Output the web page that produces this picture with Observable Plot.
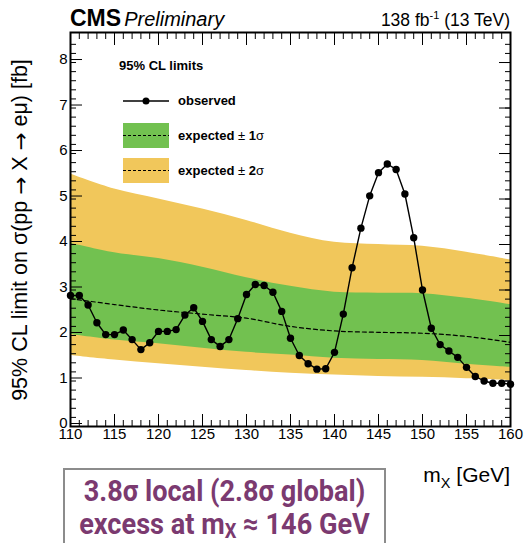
<!DOCTYPE html>
<html>
<head>
<meta charset="utf-8">
<script src="https://cdn.jsdelivr.net/npm/d3@7"></script>
<script src="https://cdn.jsdelivr.net/npm/@observablehq/plot@0.6"></script>
<style>
  html, body { margin: 0; padding: 0; background: #fff; }
  #chart { width: 524px; height: 543px; }
</style>
</head>
<body>
<div id="chart"></div>
<script>
// Resonance mass hypotheses (GeV) and the observed 95% CL upper limit (fb)
const massPoints = [110, 111, 112, 113, 114, 115, 116, 117, 118, 119,
                    120, 121, 122, 123, 124, 125, 126, 127, 128, 129,
                    130, 131, 132, 133, 134, 135, 136, 137, 138, 139,
                    140, 141, 142, 143, 144, 145, 146, 147, 148, 149,
                    150, 151, 152, 153, 154, 155, 156, 157, 158, 159, 160];
const observedLimit = [2.88, 2.88, 2.67, 2.28, 2.02, 2.02, 2.12, 1.91, 1.69, 1.84,
                       2.09, 2.09, 2.13, 2.45, 2.61, 2.31, 1.91, 1.76, 1.91, 2.37,
                       2.90, 3.12, 3.10, 2.95, 2.53, 1.94, 1.56, 1.38, 1.26, 1.27,
                       1.63, 2.47, 3.49, 4.36, 5.07, 5.58, 5.77, 5.65, 5.11, 4.15,
                       3.00, 2.16, 1.80, 1.66, 1.52, 1.30, 1.10, 1.00, 0.95, 0.95, 0.93];

// Expected limit and its ±1σ / ±2σ bands
const bandMass     = [110, 115, 120, 125, 130, 135, 140, 145, 150, 155, 160];
const expectedPlus2  = [5.55, 5.22, 5.00, 4.78, 4.53, 4.25, 4.05, 4.00, 3.96, 3.83, 3.66];
const expectedPlus1  = [4.03, 3.82, 3.69, 3.50, 3.27, 3.08, 2.95, 2.93, 2.92, 2.82, 2.68];
const expectedMedian = [2.81, 2.68, 2.56, 2.47, 2.38, 2.20, 2.10, 2.07, 2.05, 1.98, 1.85];
const expectedMinus1 = [2.02, 1.90, 1.82, 1.72, 1.63, 1.57, 1.50, 1.47, 1.45, 1.37, 1.30];
const expectedMinus2 = [1.56, 1.46, 1.38, 1.30, 1.23, 1.17, 1.13, 1.10, 1.08, 1.05, 1.01];

// Axis ticks
const xMajorTicks = [110, 115, 120, 125, 130, 135, 140, 145, 150, 155, 160];
const yMajorTicks = [0, 1, 2, 3, 4, 5, 6, 7, 8];
const xMinorTicks = d3.range(110, 160.001, 1);
const yMinorTicks = d3.range(0, 8.6, 0.2);

const observed = massPoints.map((m, i) => ({m, limit: observedLimit[i]}));
const bands = bandMass.map((m, i) => ({
  m,
  hi2: expectedPlus2[i], hi1: expectedPlus1[i], exp: expectedMedian[i],
  lo1: expectedMinus1[i], lo2: expectedMinus2[i]
}));

const GREEN = "#72c150";
const YELLOW = "#f1c75b";
const PURPLE = "#7b3a70";
const FONT = "'Liberation Sans', Arial, Helvetica, sans-serif";
const blank = () => "";

const plot = Plot.plot({
  width: 524,
  height: 543,
  marginTop: 32,
  marginRight: 14,
  marginBottom: 117,
  marginLeft: 70,
  style: {fontFamily: FONT, background: "#fff", color: "#000", overflow: "visible"},
  x: {domain: [110, 160]},
  y: {domain: [0, 8.66]},
  marks: [
    Plot.areaY(bands, {x: "m", y1: "lo2", y2: "hi2", fill: YELLOW, curve: "catmull-rom"}),
    Plot.areaY(bands, {x: "m", y1: "lo1", y2: "hi1", fill: GREEN, curve: "catmull-rom"}),
    Plot.lineY(bands, {x: "m", y: "exp", stroke: "#000", strokeWidth: 1.2, strokeDasharray: "4,3", curve: "catmull-rom"}),
    Plot.lineY(observed, {x: "m", y: "limit", stroke: "#000", strokeWidth: 1.4}),
    Plot.dot(observed, {x: "m", y: "limit", r: 3.7, fill: "#000"}),

    // ROOT-style inward ticks on all four sides
    Plot.axisX(xMajorTicks, {anchor: "bottom", tickSize: -12, tickPadding: 14, fontSize: 15, label: null}),
    Plot.axisX(xMinorTicks, {anchor: "bottom", tickSize: -6, tickFormat: blank, label: null}),
    Plot.axisX(xMajorTicks, {anchor: "top", tickSize: -12, tickFormat: blank, label: null}),
    Plot.axisX(xMinorTicks, {anchor: "top", tickSize: -6, tickFormat: blank, label: null}),
    Plot.axisY(yMajorTicks, {anchor: "left", tickSize: -12, tickPadding: 15, dy: -3, fontSize: 15, label: null}),
    Plot.axisY(yMinorTicks, {anchor: "left", tickSize: -6, tickFormat: blank, label: null}),
    Plot.axisY(yMajorTicks, {anchor: "right", tickSize: -12, tickFormat: blank, label: null}),
    Plot.axisY(yMinorTicks, {anchor: "right", tickSize: -6, tickFormat: blank, label: null}),
    Plot.frame({stroke: "#000", strokeWidth: 2})
  ]
});
document.getElementById("chart").appendChild(plot);

// Annotations: header, axis titles, legend and the significance box
const svg = d3.select(plot);
const xs = plot.scale("x"), ys = plot.scale("y");
const fLeft = xs.apply(110), fRight = xs.apply(160), fTop = ys.apply(8.66), fBottom = ys.apply(0);

const g = svg.append("g").attr("font-family", FONT).attr("fill", "#000").attr("text-anchor", "start");

// Header
const cms = g.append("text").attr("x", fLeft).attr("y", fTop - 6);
cms.append("tspan").attr("font-weight", "bold").attr("font-size", 23).text("CMS");
cms.append("tspan").attr("font-style", "italic").attr("font-size", 20).attr("dx", 3).text("Preliminary");

const lumi = g.append("text").attr("x", fRight).attr("y", fTop - 6)
  .attr("text-anchor", "end").attr("font-size", 17.5);
lumi.append("tspan").text("138 fb");
lumi.append("tspan").attr("font-size", 11).attr("dy", -7).text("-1");
lumi.append("tspan").attr("dy", 7).text(" (13 TeV)");

// y-axis title (arrows taken from DejaVu Sans for a proper long arrow glyph)
const yt = g.append("text")
  .attr("transform", `translate(20,${(fTop + fBottom) / 2 + 1}) rotate(-90)`)
  .attr("text-anchor", "middle").attr("dominant-baseline", "central")
  .attr("font-size", 21.5);
[["95% CL limit on σ(pp ", false], ["→", true], [" X ", false], ["→", true], [" eμ) [fb]", false]]
  .forEach(([s, arrow]) => {
    const t = yt.append("tspan").text(s);
    if (arrow) t.attr("font-family", "'DejaVu Sans', sans-serif");
  });

// x-axis title
const xt = g.append("text").attr("x", fRight).attr("y", fBottom + 56)
  .attr("text-anchor", "end").attr("font-size", 21);
xt.append("tspan").text("m");
xt.append("tspan").attr("font-size", 14.5).attr("dy", 6).text("X");
xt.append("tspan").attr("dy", -6).text(" [GeV]");

// Legend
const lx = fLeft + 53, tx = fLeft + 108;
g.append("text").attr("x", fLeft + 49).attr("y", fTop + 38)
  .attr("font-size", 13).attr("font-weight", "bold").text("95% CL limits");

g.append("line").attr("x1", lx).attr("x2", lx + 46).attr("y1", fTop + 69).attr("y2", fTop + 69)
  .attr("stroke", "#000").attr("stroke-width", 1.4);
g.append("circle").attr("cx", lx + 23).attr("cy", fTop + 69).attr("r", 3.5);
g.append("text").attr("x", tx).attr("y", fTop + 73)
  .attr("font-size", 13).attr("font-weight", "bold").text("observed");

[[GREEN, "1", fTop + 91], [YELLOW, "2", fTop + 126]].forEach(([fill, n, y0]) => {
  g.append("rect").attr("x", lx).attr("y", y0).attr("width", 46).attr("height", 25).attr("fill", fill);
  g.append("line").attr("x1", lx).attr("x2", lx + 46).attr("y1", y0 + 12.5).attr("y2", y0 + 12.5)
    .attr("stroke", "#000").attr("stroke-width", 1).attr("stroke-dasharray", "3,2");
  const t = g.append("text").attr("x", tx).attr("y", y0 + 17).attr("font-size", 13);
  t.append("tspan").attr("font-weight", "bold").text("expected ");
  t.append("tspan").attr("font-weight", "normal").text("± ");
  t.append("tspan").attr("font-weight", "bold").text(n);
  t.append("tspan").attr("font-weight", "normal").text("σ");
});

// Significance box
const box = svg.append("g").attr("font-family", "Roboto, sans-serif");
box.append("rect").attr("x", 64).attr("y", fBottom + 43).attr("width", 321).attr("height", 100)
  .attr("fill", "#fff").attr("stroke", "#8c8c8c").attr("stroke-width", 2);
const boxLine = (baseline) => box.append("text")
  .attr("transform", `translate(224.5,${baseline}) scale(0.92,1)`)
  .attr("text-anchor", "middle").attr("font-size", 29.5).attr("font-weight", "bold")
  .attr("fill", PURPLE);
boxLine(fBottom + 75).text("3.8σ local (2.8σ global)");
const l2 = boxLine(fBottom + 108);
l2.append("tspan").text("excess at m");
l2.append("tspan").attr("font-size", 20).attr("dy", 4).text("X");
l2.append("tspan").attr("dy", -4).text(" ≈ 146 GeV");
</script>
</body>
</html>
